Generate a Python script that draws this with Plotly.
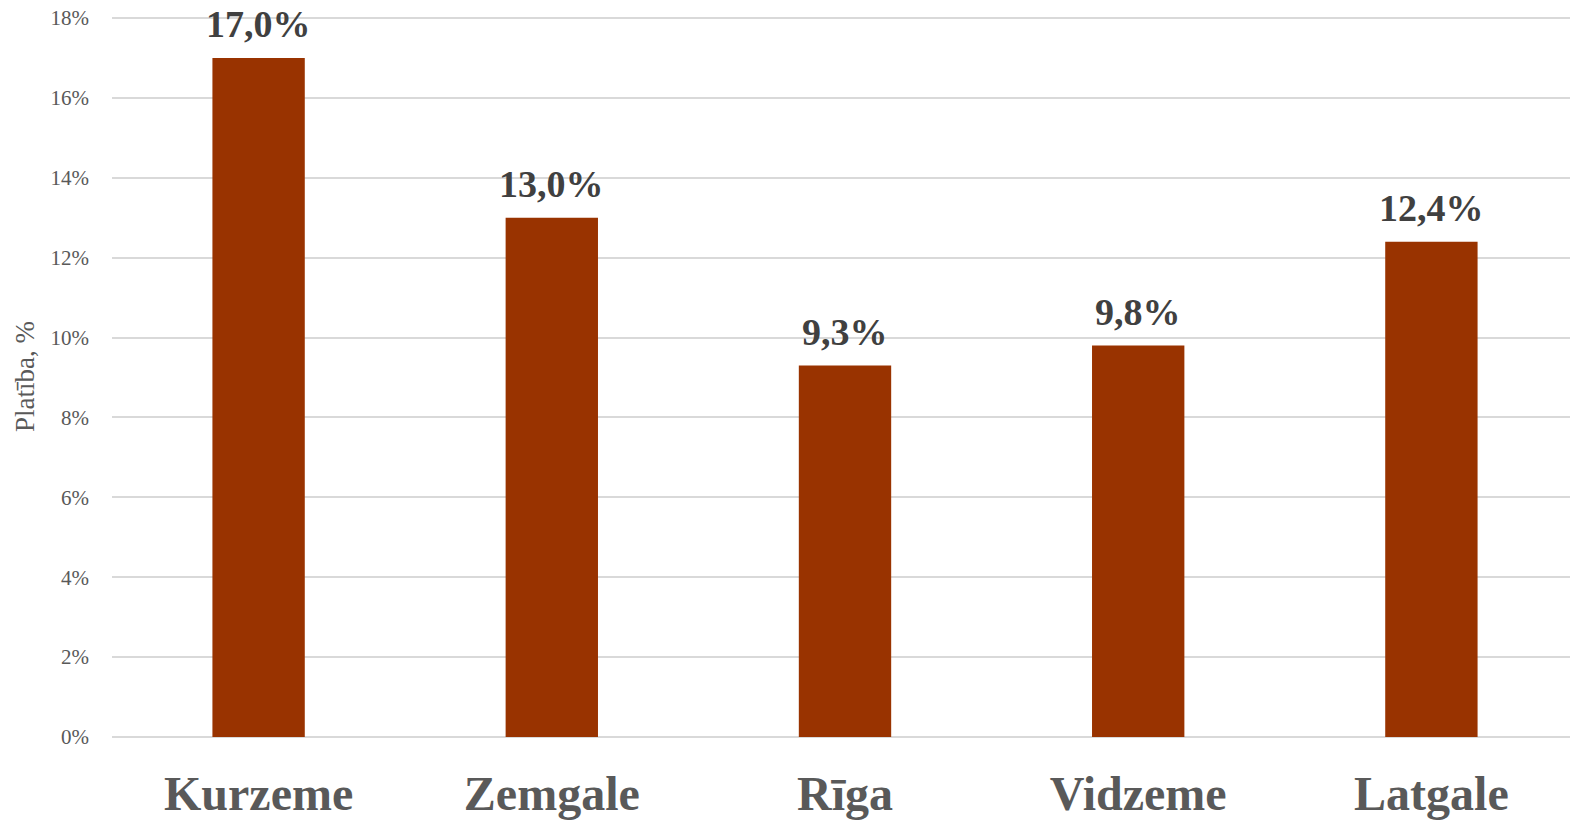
import plotly.graph_objects as go

regions = ["Kurzeme", "Zemgale", "Rīga", "Vidzeme", "Latgale"]
values = [0.170, 0.130, 0.093, 0.098, 0.124]
labels = ["17,0%", "13,0%", "9,3%", "9,8%", "12,4%"]
yticks = [0, 0.02, 0.04, 0.06, 0.08, 0.10, 0.12, 0.14, 0.16, 0.18]
yticklabels = ["0%", "2%", "4%", "6%", "8%", "10%", "12%", "14%", "16%", "18%"]

font = "Liberation Serif, Times New Roman, serif"

fig = go.Figure(go.Bar(
    x=regions, y=values,
    marker=dict(color="#993300", line=dict(width=0)),
    cliponaxis=False,
))

for r, v, t in zip(regions, values, labels):
    fig.add_annotation(
        x=r, y=v, text=t, showarrow=False, yanchor="middle", yshift=34,
        font=dict(family=font, size=38, color="#404040", weight="bold"),
    )

fig.update_layout(
    width=1570, height=813,
    margin=dict(l=104, r=0, t=8, b=84),
    plot_bgcolor="white", paper_bgcolor="white",
    bargap=0.685,
    showlegend=False,
    font=dict(family=font),
)
fig.update_xaxes(
    tickfont=dict(family=font, size=48, color="#595959", weight="bold"),
    showgrid=False, showline=False, ticks="", ticklabelstandoff=24,
    automargin=False,
)
fig.update_yaxes(
    range=[0, 0.1805], tickvals=yticks, ticktext=yticklabels,
    tickfont=dict(family=font, size=21, color="#595959"),
    showgrid=True, gridcolor="#d9d9d9", gridwidth=2,
    zeroline=True, zerolinecolor="#d9d9d9", zerolinewidth=2,
    showline=False, ticks="", ticklabelstandoff=22,
    ticklabeloverflow="allow",
    automargin=False,
    title=dict(text="Platība, %", font=dict(family=font, size=27, color="#595959"), standoff=8),
)

fig.write_html("out.html")
